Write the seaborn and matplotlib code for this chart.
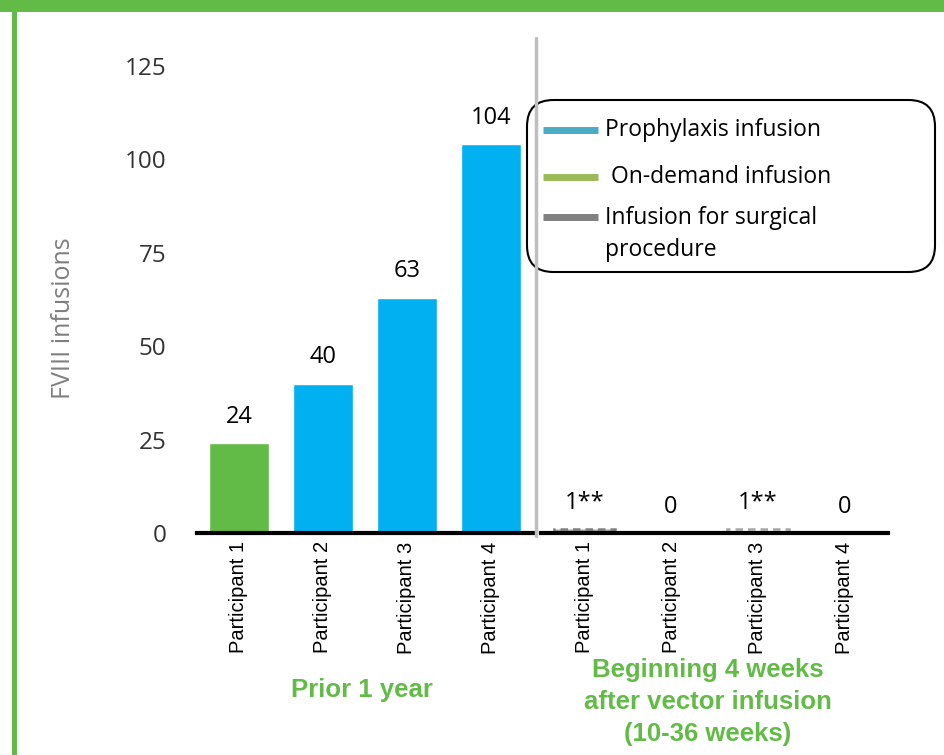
import matplotlib
matplotlib.use("Agg")
import matplotlib.pyplot as plt
import seaborn as sns
import pandas as pd
from matplotlib.lines import Line2D
from matplotlib.patches import FancyBboxPatch, Rectangle

# data
participants = ["Participant 1", "Participant 2", "Participant 3", "Participant 4"]
prior_values = [24, 40, 63, 104]
prior_types = ["On-demand", "Prophylaxis", "Prophylaxis", "Prophylaxis"]
prior_labels = ["24", "40", "63", "104"]
after_values = [1, 0, 1, 0]
after_types = ["Surgical", "Surgical", "Surgical", "Surgical"]
after_labels = ["1**", "0", "1**", "0"]
group_titles = ["Prior 1 year", "Beginning 4 weeks\nafter vector infusion\n(10-36 weeks)"]
legend_labels = ["Prophylaxis infusion", " On-demand infusion", "Infusion for surgical\nprocedure"]

bar_colors = {"Prophylaxis": "#00B0F0", "On-demand": "#62BB46", "Surgical": "#8C8C8C"}
legend_colors = ["#4BACC6", "#9BBB59", "#808080"]
frame_green = "#62BB46"

sns.set_style("white")
plt.rcParams["font.family"] = ["Open Sans", "DejaVu Sans"]

W, H = 945, 755
fig = plt.figure(figsize=(9.45, 7.55), dpi=100)
ax1 = fig.add_axes([197 / W, 1 - 533 / H, 336 / W, 467 / H])
ax2 = fig.add_axes([541 / W, 1 - 533 / H, 347 / W, 467 / H], sharey=ax1)

df1 = pd.DataFrame({"participant": participants, "value": prior_values, "type": prior_types})
df2 = pd.DataFrame({"participant": participants, "value": after_values, "type": after_types})

sns.barplot(data=df1, x="participant", y="value", hue="type", palette=bar_colors,
            dodge=False, width=0.71, saturation=1, legend=False, ax=ax1)
sns.barplot(data=df2, x="participant", y="value", hue="type", palette=bar_colors,
            dodge=False, width=0.71, saturation=1, legend=False, ax=ax2)

# small surgical bars: dashed look
bars2 = [p for p in ax2.patches if p.get_height() > 0]
for i, p in enumerate(bars2):
    p.set_linestyle((0, (3, 2)))
    p.set_linewidth(1.8)
    if i == 0:
        p.set_facecolor("#A6A6A6")
        p.set_edgecolor("#808080")
    else:
        p.set_facecolor("white")
        p.set_edgecolor("#A6A6A6")

for ax, vals, labs in [(ax1, prior_values, prior_labels), (ax2, after_values, after_labels)]:
    for i, (v, t) in enumerate(zip(vals, labs)):
        ax.annotate(t, (i, v), xytext=(0, 19), textcoords="offset points",
                    ha="center", va="center", fontsize=17, color="black")
    ax.set_xlim(-0.5, 3.5)
    ax.set_ylim(0, 125)
    ax.set_xlabel("")
    ax.set_ylabel("")
    for s in ["top", "right", "left"]:
        ax.spines[s].set_visible(False)
    ax.spines["bottom"].set_color("black")
    ax.spines["bottom"].set_linewidth(3)
    ax.tick_params(axis="x", length=0, pad=6)
    ax.set_xticks(range(4))
    ax.set_xticklabels(participants, rotation=90, fontsize=14.5, color="black",
                       family=["Liberation Sans", "DejaVu Sans"])

ax1.set_yticks([0, 25, 50, 75, 100, 125])
ax1.tick_params(axis="y", length=0, labelsize=17.5, labelcolor="#333333", pad=22)
ax2.tick_params(axis="y", left=False, labelleft=False)
ax1.set_ylabel("FVIII infusions", fontsize=18, color="#7F7F7F")
ax1.yaxis.set_label_coords((76 - 197) / 336, (533 - 318) / 467)

# group captions
fig.text(362 / W, 1 - 690 / H, group_titles[0], ha="center", va="center",
         fontsize=18.5, fontweight="bold", color=frame_green, family="Liberation Sans")
fig.text(708 / W, 1 - 702 / H, group_titles[1], ha="center", va="center",
         fontsize=18.5, fontweight="bold", color=frame_green, family="Liberation Sans",
         linespacing=1.4)

# divider between periods
fig.add_artist(Line2D([536 / W, 536 / W], [1 - 38 / H, 1 - 536 / H],
                      color="#BFBFBF", linewidth=2.5))

# legend box with its entries
fig.add_artist(FancyBboxPatch((527 / W, 1 - 272 / H), 408 / W, 172 / H,
                              boxstyle="round,pad=0,rounding_size=0.028",
                              transform=fig.transFigure, facecolor="white",
                              edgecolor="black", linewidth=1.5, mutation_aspect=W / H))
legend_rows = [130, 177, 217]
legend_text_y = [130, 177, 234]
for c, lab, yl, yt in zip(legend_colors, legend_labels, legend_rows, legend_text_y):
    fig.add_artist(Line2D([543 / W, 598 / W], [1 - yl / H, 1 - yl / H], color=c,
                          linewidth=5, solid_capstyle="butt"))
    fig.text(605 / W, 1 - yt / H, lab, ha="left", va="center", fontsize=16.5,
             color="black", linespacing=1.45)

# green frame of the slide
fig.add_artist(Rectangle((0, 1 - 12 / H), 1, 12 / H, transform=fig.transFigure,
                         facecolor=frame_green, edgecolor="none"))
fig.add_artist(Rectangle((12 / W, 0), 5 / W, 1, transform=fig.transFigure,
                         facecolor=frame_green, edgecolor="none"))

fig.savefig("out.png", dpi=100)
